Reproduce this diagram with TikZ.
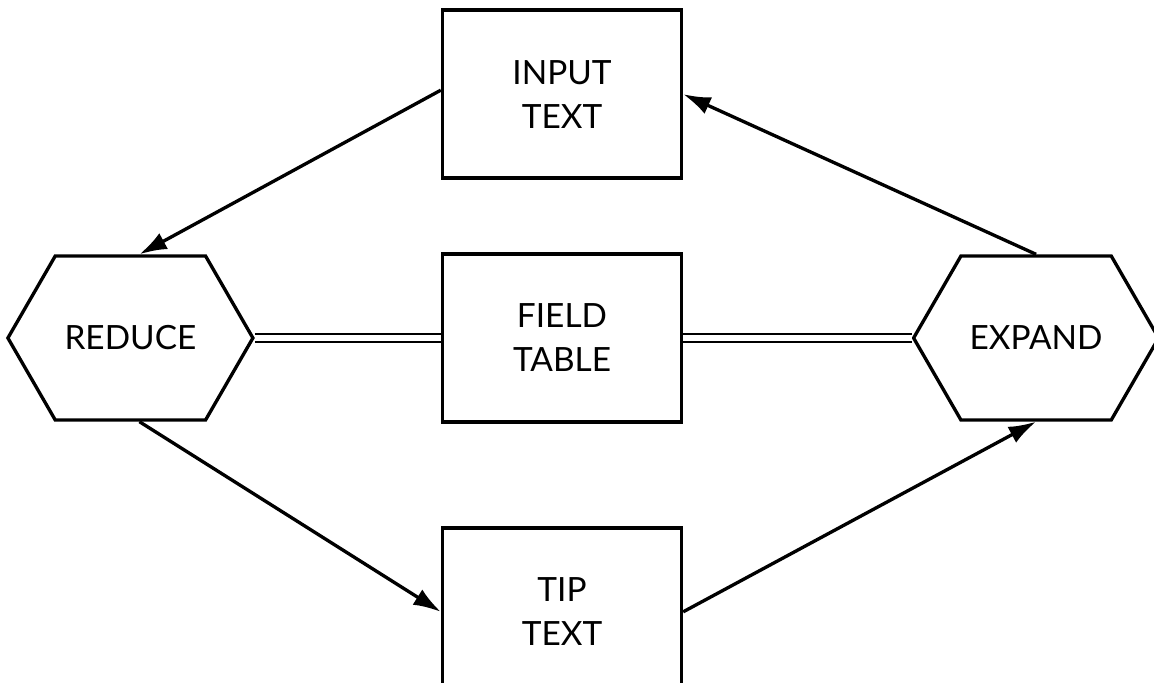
\documentclass[tikz,border=0pt]{standalone}
\usepackage{fontspec}
\setsansfont{Lato}
\usetikzlibrary{calc,positioning,shapes.symbols}
\usetikzlibrary{arrows.meta}
\tikzset{>={Latex[length=5.5mm,width=3.6mm]}}
\tikzset{box/.style = {draw, rectangle, line width=1.9pt,
                  minimum width=4.78cm, minimum height=3.36cm, align=center,
                  font=\sffamily\fontsize{19}{25}\selectfont},
        hexa/.style = {draw, signal, signal to=west and east,
                  signal pointer angle=120, line width=1.9pt,
                  minimum width=4.9cm, minimum height=3.28cm,
                  font=\sffamily\fontsize{19}{25}\selectfont},
        link/.style = {double, double distance=1.1mm, line width=1.4pt}
    }

\begin{document}
\begin{tikzpicture}
    \useasboundingbox (0,0) rectangle (23.08,13.64);

    \node[box] (table) at (11.24,6.88) {FIELD\\TABLE};
    \node[box, above=1.45cm of table] (input) {INPUT\\TEXT};
    \node[box, below=2.05cm of table] (tip) {TIP\\TEXT};
    \node[hexa, left=3.72cm of table] (reduce) {REDUCE};
    \node[hexa, right=4.57cm of table] (expand) {EXPAND};

    % double links to the table
    \draw[link] (reduce.east) -- (reduce.east -| table.west);
    \draw[link] (table.east |- expand.west) -- (expand.west);

    % the loop round the table
    \draw[->, line width=1.9pt] ($(input.west)+(0,0.08)$) -- ($(reduce.north)+(0.18,0)$);
    \draw[->, line width=1.9pt] ($(reduce.south)+(0.18,0)$) -- (tip.west);
    \draw[->, line width=1.9pt] (tip.east) -- (expand.south);
    \draw[->, line width=1.9pt] (expand.north) -- (input.east);
\end{tikzpicture}
\end{document}
